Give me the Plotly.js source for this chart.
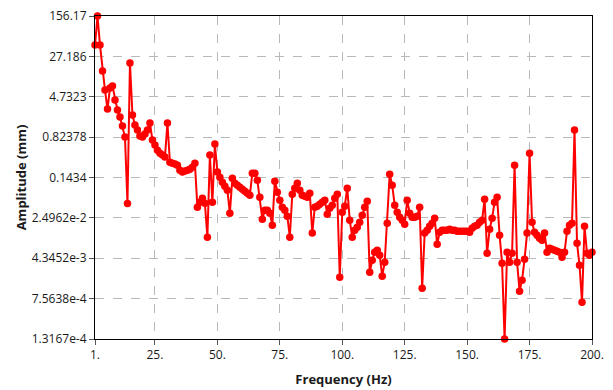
<!DOCTYPE html>
<html>
<head>
<meta charset="utf-8">
<script src="https://cdn.plot.ly/plotly-3.0.1.min.js"></script>
<style>html,body{margin:0;padding:0;background:#fff}#chart{width:613px;height:390px}</style>
</head>
<body>
<div id="chart"></div>
<script>
const frequencyHz = [1,2,3,4,5,6,7,8,9,10,11,12,13,14,15,16,17,18,19,20,
21,22,23,24,25,26,27,28,29,30,31,32,33,34,35,36,37,38,39,40,
41,42,43,44,45,46,47,48,49,50,51,52,53,54,55,56,57,58,59,60,
61,62,63,64,65,66,67,68,69,70,71,72,73,74,75,76,77,78,79,80,
81,82,83,84,85,86,87,88,89,90,91,92,93,94,95,96,97,98,99,100,
101,102,103,104,105,106,107,108,109,110,111,112,113,114,115,116,117,118,119,120,
121,122,123,124,125,126,127,128,129,130,131,132,133,134,135,136,137,138,139,140,
141,142,143,144,145,146,147,148,149,150,151,152,153,154,155,156,157,158,159,160,
161,162,163,164,165,166,167,168,169,170,171,172,173,174,175,176,177,178,179,180,
181,182,183,184,185,186,187,188,189,190,191,192,193,194,195,196,197,198,199,200];

const amplitudeMm = [
44.4,156.17,44.4,14.4,6.32,2.78,6.89,7.52,4.10,2.66,
1.96,1.33,0.824,0.0465,20.4,2.14,1.39,1.117,0.861,0.824,
0.939,1.117,1.512,0.724,0.583,0.469,0.412,0.378,0.347,1.512,
0.279,0.267,0.256,0.245,0.197,0.181,0.189,0.197,0.206,0.2246,
0.267,0.0397,0.0493,0.0586,0.0472,0.0108,0.378,0.0493,0.609,0.181,
0.1456,0.1173,0.0986,0.0829,0.0306,0.1394,0.1123,0.103,0.0944,0.0866,
0.0794,0.0728,0.0667,0.1732,0.1732,0.1279,0.0612,0.0236,0.0348,0.0348,
0.0306,0.0182,0.1224,0.076,0.0537,0.0397,0.0348,0.0269,0.0108,0.0697,
0.0904,0.1123,0.0829,0.0667,0.0639,0.0612,0.0728,0.0129,0.0397,0.0414,
0.0452,0.0493,0.0537,0.0293,0.038,0.0433,0.0586,0.0697,0.00191,0.032,
0.0414,0.0904,0.0226,0.0108,0.0146,0.0167,0.0207,0.0281,0.0397,0.0515,
0.00237,0.00399,0.00564,0.00615,0.00496,0.002,0.00366,0.0198,0.1659,0.103,
0.0433,0.032,0.0257,0.0226,0.019,0.0537,0.0306,0.0257,0.0257,0.0269,
0.0397,0.00119,0.0129,0.0146,0.0174,0.0198,0.0246,0.00798,0.0134,0.0146,
0.0146,0.0146,0.0153,0.0146,0.0146,0.014,0.014,0.014,0.014,0.014,
0.0134,0.016,0.0174,0.0182,0.0207,0.0226,0.0561,0.0054,0.0153,0.0246,
0.0493,0.0612,0.0118,0.0035,0.00013167,0.00564,0.00366,0.0054,0.245,0.00366,
0.00104,0.00168,0.00417,0.0129,0.412,0.0207,0.0134,0.0118,0.01035,0.0095,
0.0129,0.00564,0.00671,0.00643,0.00615,0.00589,0.00564,0.00455,0.00564,0.014,
0.0182,0.0198,1.117,0.00834,0.00321,0.000646,0.0174,0.0054,0.00496,0.00564];

const xTickVals = [1,25,50,75,100,125,150,175,200];
const xTickText = ["1.","25.","50.","75.","100.","125.","150.","175.","200."];
const yTickVals = [1.3167e-4,7.5638e-4,4.3452e-3,2.4962e-2,0.1434,0.82378,4.7323,27.186,156.17];
const yTickText = ["1.3167e-4","7.5638e-4","4.3452e-3","2.4962e-2","0.1434","0.82378","4.7323","27.186","156.17"];

const font = "'Open Sans', 'Noto Sans', sans-serif";

const trace = {
  x: frequencyHz, y: amplitudeMm, type: 'scatter', mode: 'lines+markers',
  line: {color: '#ff0000', width: 2},
  marker: {color: '#ff0000', size: 7.5, symbol: 'circle'},
  cliponaxis: false, hoverinfo: 'none'
};

const layout = {
  width: 613, height: 390,
  margin: {l: 95, r: 21, t: 16, b: 51},
  paper_bgcolor: '#ffffff', plot_bgcolor: '#ffffff',
  showlegend: false,
  font: {family: font, size: 12, color: '#1a1a1a'},
  xaxis: {
    range: [1, 200], tickvals: xTickVals, ticktext: xTickText,
    showgrid: true, gridcolor: '#b8b8b8', griddash: 'dash', gridwidth: 1,
    zeroline: false, showline: true, linecolor: '#000', linewidth: 1, mirror: true,
    ticks: 'outside', ticklen: 5, tickcolor: '#555',
    tickfont: {family: font, size: 12, color: '#1a1a1a'},
    title: {text: 'Frequency (Hz)', font: {family: font, size: 13, color: '#1a1a1a', weight: 'bold'}, standoff: 12}
  },
  yaxis: {
    type: 'log', range: [Math.log10(1.3167e-4), Math.log10(156.17)],
    tickvals: yTickVals, ticktext: yTickText,
    showgrid: true, gridcolor: '#b8b8b8', griddash: 'dash', gridwidth: 1,
    zeroline: false, showline: true, linecolor: '#000', linewidth: 1, mirror: true,
    ticks: 'outside', ticklen: 5, tickcolor: '#555',
    tickfont: {family: font, size: 12, color: '#1a1a1a'},
    title: {text: 'Amplitude (mm)', font: {family: font, size: 13, color: '#1a1a1a', weight: 'bold'}, standoff: 2}
  }
};

Plotly.newPlot('chart', [trace], layout, {staticPlot: true, displayModeBar: false});
</script>
</body>
</html>
